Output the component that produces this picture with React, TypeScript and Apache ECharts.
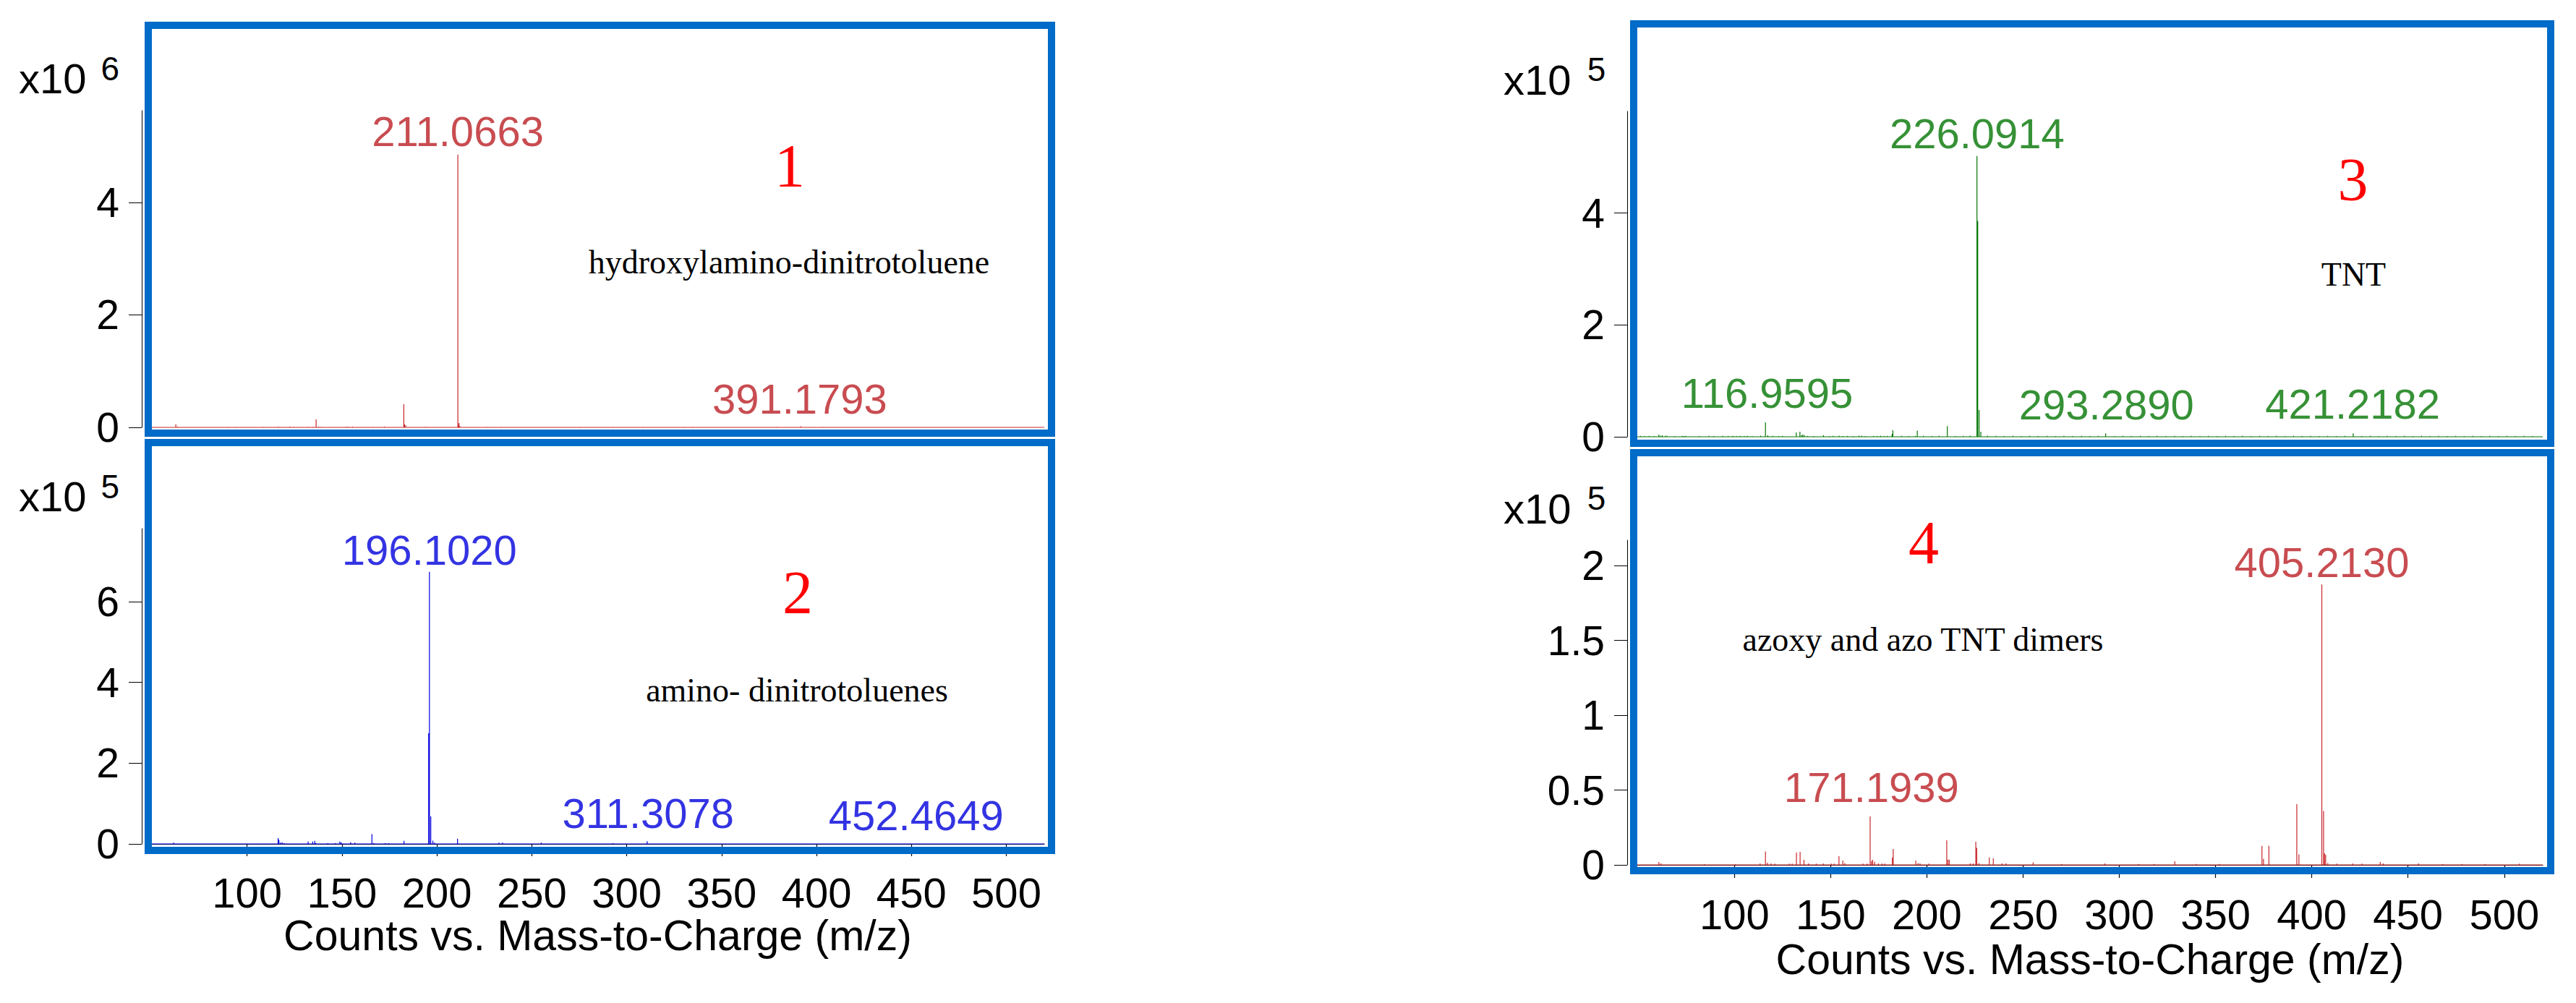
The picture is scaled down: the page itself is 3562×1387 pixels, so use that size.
import React, { useEffect, useRef } from 'react';
import * as echarts from 'echarts';

// ---------- data ----------
const MZ_MIN = 49.5;
const MZ_MAX = 520;
const mzTicks = [100, 150, 200, 250, 300, 350, 400, 450, 500];

const yTicks1 = [0, 2, 4];
const yTicks2 = [0, 2, 4, 6];
const yTicks3 = [0, 2, 4];
const yTicks4 = [0, 0.5, 1, 1.5, 2];
const yMax1 = 5.63;
const yMax2 = 7.81;
const yMax3 = 5.82;
const yMax4 = 2.17;
const exponents = ['6', '5', '5', '5'];

// panel 1: hydroxylamino-dinitrotoluene (x10^6)
const peaks1: [number, number][] = [
  [62.5, 0.055], [63.4, 0.012], [90.3, 0.01], [94.5, 0.01], [108.6, 0.01], [116.5, 0.012],
  [122.5, 0.012], [124.6, 0.01], [132.2, 0.01], [134.7, 0.01], [136.4, 0.142], [137.7, 0.012],
  [138.7, 0.01], [152.3, 0.012], [153.5, 0.01], [155.6, 0.012], [166.5, 0.01], [172.4, 0.012],
  [182.6, 0.41], [183.0, 0.055], [183.6, 0.035], [193.6, 0.01], [194.9, 0.01], [211.07, 4.85],
  [211.5, 0.04], [211.7, 0.077], [212.2, 0.02], [226.2, 0.01], [234.0, 0.01], [275.0, 0.01],
  [292.8, 0.01], [308.6, 0.01], [330.6, 0.01], [334.9, 0.01], [379.0, 0.01], [391.7, 0.02],
  [403.0, 0.01],
];
const labels1: [number, number][] = [[211.0663, 5.26], [391.1793, 0.514]];

// panel 2: amino-dinitrotoluenes (x10^5)
const peaks2: [number, number][] = [
  [61.4, 0.03], [116.4, 0.143], [116.8, 0.1], [117.6, 0.03], [118.5, 0.04], [119.6, 0.02],
  [132.2, 0.06], [134.6, 0.06], [135.7, 0.078], [136.2, 0.02], [142.6, 0.02], [146.5, 0.02],
  [148.9, 0.06], [149.6, 0.04], [154.6, 0.04], [156.8, 0.03], [165.8, 0.24], [166.7, 0.02],
  [172.8, 0.02], [174.7, 0.02], [182.7, 0.078], [195.7, 2.74], [196.1, 6.74], [196.8, 0.68],
  [197.9, 0.08], [198.8, 0.03], [210.9, 0.13], [232.7, 0.03], [234.6, 0.03], [255.0, 0.03],
  [292.8, 0.02], [310.8, 0.065],
];
const labels2: [number, number][] = [[196.102, 7.29], [311.3078, 0.76], [452.4649, 0.7]];

// panel 3: TNT (x10^5)
const peaks3: [number, number][] = [
  [51.2, 0.015], [53.2, 0.012], [55.7, 0.015], [58.2, 0.012], [60.7, 0.04], [61.6, 0.02],
  [62.5, 0.025], [64.1, 0.02], [65.0, 0.015], [68.9, 0.012], [72.9, 0.015], [73.8, 0.012],
  [74.8, 0.015], [81.7, 0.012], [86.7, 0.015], [89.2, 0.012], [93.8, 0.015], [96.7, 0.012],
  [99.2, 0.015], [101.1, 0.012], [103.0, 0.015], [105.1, 0.012], [106.7, 0.015], [109.2, 0.012],
  [113.6, 0.02], [116.1, 0.26], [117.3, 0.025], [119.9, 0.015], [123.0, 0.012], [124.9, 0.015],
  [132.1, 0.078], [134.0, 0.09], [134.9, 0.03], [135.5, 0.04], [136.3, 0.03], [138.0, 0.015],
  [141.1, 0.012], [146.2, 0.03], [149.3, 0.012], [151.2, 0.015], [154.4, 0.02], [156.3, 0.012],
  [158.7, 0.015], [161.8, 0.012], [164.7, 0.02], [166.1, 0.02], [167.9, 0.012], [172.2, 0.015],
  [174.1, 0.012], [175.9, 0.02], [177.8, 0.012], [179.4, 0.015], [181.9, 0.05], [182.3, 0.116],
  [186.9, 0.015], [190.5, 0.012], [194.0, 0.015], [195.0, 0.11], [198.2, 0.015], [202.5, 0.012],
  [206.3, 0.015], [210.6, 0.19], [214.8, 0.012], [218.9, 0.015], [222.4, 0.02], [226.0, 5.02],
  [226.4, 3.86], [227.1, 0.48], [228.0, 0.09], [231.5, 0.02], [235.8, 0.015], [240.2, 0.012],
  [244.7, 0.015], [249.1, 0.012], [253.3, 0.015], [257.8, 0.012], [262.4, 0.015], [266.9, 0.012],
  [271.2, 0.015], [275.6, 0.012], [280.3, 0.015], [284.7, 0.012], [289.0, 0.015], [292.9, 0.06],
  [297.5, 0.012], [301.8, 0.015], [306.2, 0.012], [310.9, 0.015], [315.3, 0.012], [319.6, 0.015],
  [324.1, 0.012], [328.7, 0.015], [333.0, 0.012], [337.4, 0.015], [341.9, 0.012], [346.3, 0.015],
  [350.8, 0.012], [355.2, 0.015], [359.5, 0.012], [364.0, 0.015], [368.4, 0.012], [372.9, 0.015],
  [377.3, 0.012], [381.6, 0.015], [386.1, 0.012], [390.5, 0.015], [395.0, 0.012], [399.4, 0.015],
  [403.8, 0.012], [408.2, 0.015], [412.7, 0.012], [417.1, 0.015], [421.5, 0.06], [425.9, 0.012],
  [430.4, 0.015], [434.8, 0.012], [439.2, 0.015], [443.7, 0.012], [448.1, 0.015], [452.6, 0.012],
  [457.0, 0.015], [461.4, 0.012], [465.9, 0.015], [470.3, 0.012], [474.8, 0.015], [479.2, 0.012],
  [483.6, 0.015], [488.1, 0.012], [492.5, 0.015], [497.0, 0.012], [501.4, 0.015], [505.8, 0.012],
  [510.3, 0.015], [514.7, 0.012],
];
const labels3: [number, number][] = [[226.0914, 5.43], [116.9595, 0.78], [293.289, 0.57], [421.2182, 0.59]];

// panel 4: azoxy and azo TNT dimers (x10^5)
const peaks4: [number, number][] = [
  [60.7, 0.019], [61.8, 0.01], [84.3, 0.005], [100.5, 0.005], [113.3, 0.01], [116.1, 0.09],
  [117.1, 0.015], [119.0, 0.01], [121.0, 0.008], [128.5, 0.008], [130.0, 0.008], [132.2, 0.082],
  [134.1, 0.087], [136.1, 0.034], [138.5, 0.01], [142.5, 0.008], [146.1, 0.01], [150.3, 0.008],
  [151.8, 0.008], [154.3, 0.058], [156.3, 0.029], [157.3, 0.012], [166.8, 0.008], [168.9, 0.008],
  [170.5, 0.324], [171.2, 0.025], [171.8, 0.034], [172.8, 0.02], [174.8, 0.01], [176.7, 0.01],
  [178.1, 0.008], [182.0, 0.048], [182.5, 0.106], [194.2, 0.029], [195.4, 0.012], [196.4, 0.01],
  [201.0, 0.008], [210.3, 0.164], [210.9, 0.035], [211.6, 0.035], [222.5, 0.01], [224.0, 0.01],
  [225.4, 0.155], [225.9, 0.113], [227.0, 0.012], [232.4, 0.049], [234.5, 0.045], [239.0, 0.01],
  [241.0, 0.01], [255.2, 0.017], [270.0, 0.006], [292.5, 0.01], [310.0, 0.006], [318.0, 0.006],
  [328.8, 0.024], [340.0, 0.006], [352.0, 0.006], [374.1, 0.127], [374.9, 0.04], [377.7, 0.127],
  [392.2, 0.406], [393.3, 0.07], [405.2, 1.874], [406.1, 0.36], [406.6, 0.077], [407.2, 0.068],
  [408.3, 0.012], [413.0, 0.008], [421.2, 0.01], [426.0, 0.008], [435.6, 0.019], [437.1, 0.01],
  [455.5, 0.01], [468.0, 0.006], [478.0, 0.006], [490.0, 0.006], [507.9, 0.008],
];
const labels4: [number, number][] = [[405.213, 2.023], [171.1939, 0.519]];

const panelNumbers = ['1', '2', '3', '4'];
const compoundNames = ['hydroxylamino-dinitrotoluene', 'amino- dinitrotoluenes', 'TNT', 'azoxy and azo TNT dimers'];
const xTitle = 'Counts vs. Mass-to-Charge (m/z)';

// ---------- styles / layout ----------
const SANS = '"Liberation Sans", Arial, sans-serif';
const SERIF = '"Liberation Serif", "Times New Roman", serif';
const BOX_BLUE = '#006BC8';
const RED_LINE = '#C8282D';
const RED_LABEL = '#BA1F26';
const BLUE_LINE = '#0000DC';
const GREEN = '#047604';

function stick(peaks: [number, number][]) {
  const s = [...peaks].sort((a, b) => a[0] - b[0]);
  const pts: number[][] = [[MZ_MIN, 0]];
  for (const [m, h] of s) {
    pts.push([m, 0], [m, h], [m, 0]);
  }
  pts.push([MZ_MAX, 0]);
  return pts;
}

const panels = [
  { grid: { left: 209, top: 153, width: 1235, height: 438 }, yMax: yMax1, yTicks: yTicks1, peaks: peaks1, labels: labels1, line: RED_LINE, label: RED_LABEL, bottom: false, yOff: 13, xOff: 17, nameGap: 80 },
  { grid: { left: 209, top: 731, width: 1235, height: 436 }, yMax: yMax2, yTicks: yTicks2, peaks: peaks2, labels: labels2, line: BLUE_LINE, label: BLUE_LINE, bottom: true, yOff: 13, xOff: 17, nameGap: 80 },
  { grid: { left: 2264, top: 154, width: 1252, height: 450 }, yMax: yMax3, yTicks: yTicks3, peaks: peaks3, labels: labels3, line: GREEN, label: GREEN, bottom: false, yOff: 14, xOff: 18, nameGap: 83 },
  { grid: { left: 2264, top: 747, width: 1252, height: 449 }, yMax: yMax4, yTicks: yTicks4, peaks: peaks4, labels: labels4, line: RED_LINE, label: RED_LABEL, bottom: true, yOff: 14, xOff: 18, nameGap: 83 },
];

// x10 label positions, numbers, names
const x10Pos = [
  { x: 26, y: 108.5, sx: 139.5, sy: 95.4 },
  { x: 26, y: 686, sx: 139.5, sy: 673 },
  { x: 2079, y: 110.5, sx: 2194.7, sy: 96.3 },
  { x: 2079, y: 703, sx: 2194.7, sy: 689 },
];
const numPos = [
  { x: 1092, y: 229.5 }, { x: 1103, y: 819.3 }, { x: 3253.5, y: 248 }, { x: 2660, y: 750.9 },
];
const namePos = [
  { x: 1091, y: 362 }, { x: 1102, y: 954 }, { x: 3254.5, y: 379 }, { x: 2659, y: 884.2 },
];
const boxes = [
  { x: 205, y: 35, width: 1249, height: 564 },
  { x: 205, y: 612, width: 1249, height: 564 },
  { x: 2259, y: 33, width: 1268, height: 580 },
  { x: 2259, y: 626, width: 1268, height: 578 },
];

function txt(text: string, x: number, y: number, font: string, fill: string, align: string) {
  return {
    type: 'text', x, y, silent: true, z: 10,
    style: { text, font, fill, align, verticalAlign: 'middle', textAlign: align, textVerticalAlign: 'middle' },
  };
}

export default function App() {
  const ref = useRef<HTMLDivElement>(null);
  useEffect(() => {
    if (!ref.current) return;
    const chart = echarts.init(ref.current, null, { renderer: 'svg' });

    const grid = panels.map((p) => ({ ...p.grid, containLabel: false }));
    const xAxis = panels.map((p, i) => ({
      type: 'value', gridIndex: i, min: MZ_MIN, max: MZ_MAX, show: p.bottom,
      offset: p.xOff,
      splitLine: { show: false },
      axisLine: { show: true, lineStyle: { color: '#000', width: 1.2 } },
      axisTick: { show: true, inside: false, length: p.xOff, customValues: mzTicks, lineStyle: { color: '#000', width: 1.2 } },
      axisLabel: { show: true, customValues: mzTicks, margin: 21, fontSize: 58, fontFamily: SANS, color: '#000' },
      name: p.bottom ? xTitle : '',
      nameLocation: 'middle', nameGap: p.nameGap,
      nameTextStyle: { fontSize: 59, fontFamily: SANS, color: '#000' },
    }));
    const yAxis = panels.map((p, i) => ({
      type: 'value', gridIndex: i, min: 0, max: p.yMax, offset: p.yOff,
      splitLine: { show: false },
      axisLine: { show: true, lineStyle: { color: '#000', width: 1 } },
      axisTick: { show: true, inside: false, length: 18, customValues: p.yTicks, lineStyle: { color: '#000', width: 1 } },
      axisLabel: { show: true, customValues: p.yTicks, margin: 31, fontSize: 57, fontFamily: SANS, color: '#000' },
    }));
    const series: any[] = [];
    panels.forEach((p, i) => {
      series.push({
        type: 'line', xAxisIndex: i, yAxisIndex: i, data: stick(p.peaks), symbol: 'none',
        silent: true, clip: false,
        lineStyle: { color: p.line, width: 1.2, join: 'bevel' },
      });
      series.push({
        type: 'scatter', xAxisIndex: i, yAxisIndex: i, data: p.labels, symbolSize: 0.1,
        silent: true, itemStyle: { color: 'rgba(0,0,0,0)' },
        label: {
          show: true, position: 'inside', fontSize: 58, fontFamily: SANS, color: p.label,
          formatter: (d: any) => Number(d.value[0]).toFixed(4),
        },
      });
    });

    const graphic: any[] = [];
    boxes.forEach((b) => {
      graphic.push({ type: 'rect', shape: b, silent: true, z: 5, style: { fill: 'none', stroke: BOX_BLUE, lineWidth: 10 } });
    });
    graphic.push({ type: 'rect', shape: { x: 210, y: 615, width: 9, height: 2 }, silent: true, z: 5, style: { fill: BOX_BLUE } });
    graphic.push({ type: 'rect', shape: { x: 1395, y: 615, width: 54, height: 2 }, silent: true, z: 5, style: { fill: BOX_BLUE } });
    x10Pos.forEach((p, i) => {
      graphic.push(txt('x10', p.x, p.y, `58px ${SANS}`, '#000', 'left'));
      graphic.push(txt(exponents[i], p.sx, p.sy, `46px ${SANS}`, '#000', 'left'));
    });
    numPos.forEach((p, i) => graphic.push(txt(panelNumbers[i], p.x, p.y, `84px ${SERIF}`, '#FF0000', 'center')));
    namePos.forEach((p, i) => graphic.push(txt(compoundNames[i], p.x, p.y, `46px ${SERIF}`, '#000', 'center')));

    chart.setOption({
      animation: false,
      backgroundColor: '#fff',
      grid, xAxis, yAxis, series, graphic,
    });
    return () => chart.dispose();
  }, []);
  return <div ref={ref} style={{ position: 'absolute', left: 0, top: 0, width: 3562, height: 1387 }} />;
}
